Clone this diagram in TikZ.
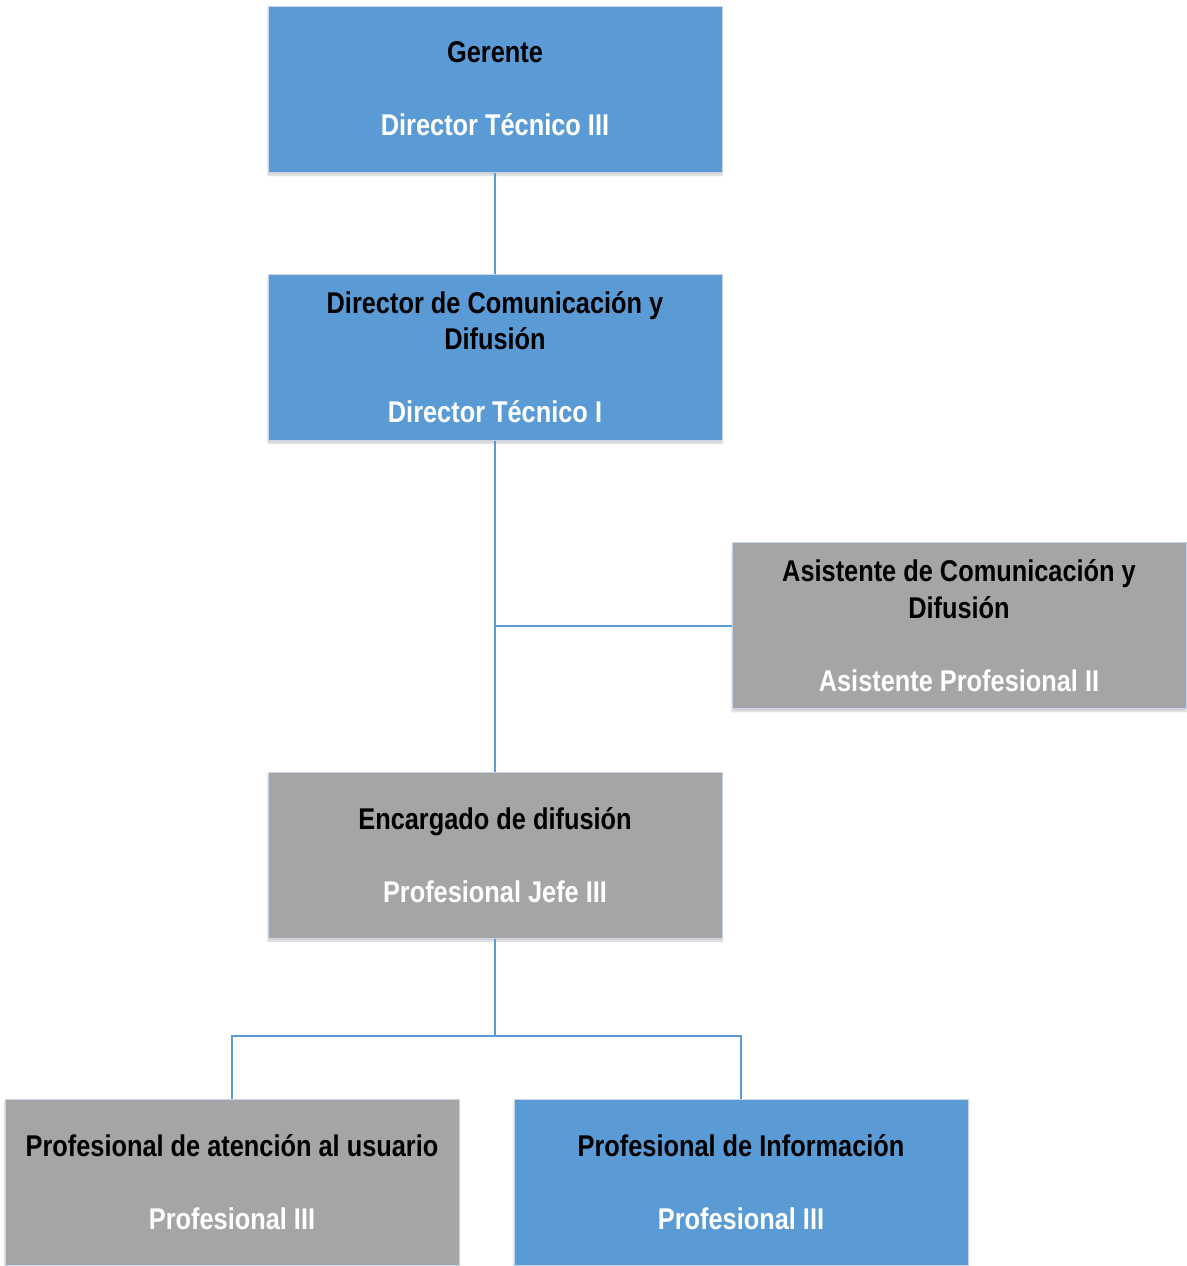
\documentclass[tikz,border=0pt]{standalone}
\usepackage{fontspec}
\setmainfont[FakeStretch=0.845]{Liberation Sans}
\usetikzlibrary{shadows.blur}
\definecolor{boxblue}{HTML}{5B9BD5}
\definecolor{boxgray}{HTML}{A5A5A5}
\definecolor{boxedge}{HTML}{C8D6E8}
\definecolor{linkblue}{HTML}{5B9BD5}
\begin{document}
\begin{tikzpicture}[x=1pt,y=-1pt,
  orgbox/.style={draw=boxedge, line width=1pt, minimum width=454pt, minimum height=166pt,
    inner sep=0pt, align=center, text=white,
    font=\fontsize{30}{36.5}\selectfont\bfseries,
    blur shadow={shadow xshift=0pt, shadow yshift=-3pt, shadow blur steps=6, shadow opacity=20}},
  bluebox/.style={orgbox, fill=boxblue},
  graybox/.style={orgbox, fill=boxgray},
  link/.style={draw=linkblue, line width=2pt}]
\useasboundingbox (0,0) rectangle (1186,1266);
\node[bluebox] (g) at (495,89) {\textcolor{black}{Gerente}\\[36.5pt]Director Técnico III};
\node[bluebox] (d) at (495,357) {\textcolor{black}{Director de Comunicación y}\\\textcolor{black}{Difusión}\\[36.5pt]Director Técnico I};
\node[graybox] (a) at (959,625.5) {\textcolor{black}{Asistente de Comunicación y}\\\textcolor{black}{Difusión}\\[36.5pt]Asistente Profesional II};
\node[graybox] (e) at (495,855) {\textcolor{black}{Encargado de difusión}\\[36.5pt]Profesional Jefe III};
\node[graybox] (p1) at (232,1182) {\textcolor{black}{Profesional de atención al usuario}\\[36.5pt]Profesional III};
\node[bluebox] (p2) at (741,1182) {\textcolor{black}{Profesional de Información}\\[36.5pt]Profesional III};
\coordinate (j) at (495,1036);
\draw[link] (g.south) -- (d.north);
\draw[link] (d.south) -- (e.north);
\draw[link] (a.west) -- (d.south |- a.west);
\draw[link] (e.south) -- (j);
\draw[link] (j) -| (p1.north);
\draw[link] (j) -| (p2.north);
\end{tikzpicture}
\end{document}
